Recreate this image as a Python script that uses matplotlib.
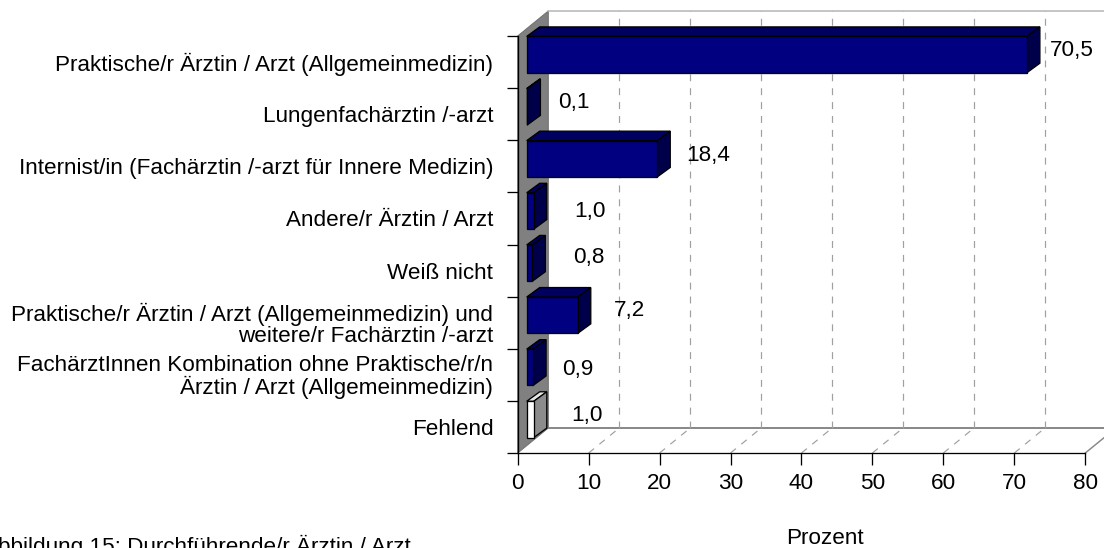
import matplotlib
matplotlib.use('Agg')
import matplotlib.pyplot as plt
from matplotlib.patches import Polygon
import numpy as np

# ---------------- data ----------------
categories = [
    'Praktische/r Ärztin / Arzt (Allgemeinmedizin)',
    'Lungenfachärztin /-arzt',
    'Internist/in (Fachärztin /-arzt für Innere Medizin)',
    'Andere/r Ärztin / Arzt',
    'Weiß nicht',
    'Praktische/r Ärztin / Arzt (Allgemeinmedizin) und\nweitere/r Fachärztin /-arzt',
    'FachärztInnen Kombination ohne Praktische/r/n\nÄrztin / Arzt (Allgemeinmedizin)',
    'Fehlend',
]
values = [70.5, 0.1, 18.4, 1.0, 0.8, 7.2, 0.9, 1.0]
is_missing = [False, False, False, False, False, False, False, True]
x_ticks = [0, 10, 20, 30, 40, 50, 60, 70, 80]
x_label = 'Prozent'
caption = 'Abbildung 15: Durchführende/r Ärztin / Arzt'

# ---------------- layout / style ----------------
W, H, DPI = 1104, 548, 100
plt.rcParams['font.family'] = ['Liberation Sans', 'DejaVu Sans']
plt.rcParams['lines.scale_dashes'] = False
FS = 16.2
PX = 72.0 / DPI  # points per pixel

fig = plt.figure(figsize=(W / DPI, H / DPI), dpi=DPI)
fig.patch.set_facecolor('white')

ax_l, ax_r, ax_t, ax_b = 517.7, 1085.3, 36.0, 453.0
ax = fig.add_axes([ax_l / W, 1 - ax_b / H, (ax_r - ax_l) / W, (ax_b - ax_t) / H])
n = len(categories)
xmax = x_ticks[-1]
ax.set_xlim(0, xmax)
ax.set_ylim(n - 0.5, -0.5)
ax.patch.set_visible(False)

sx = (ax_r - ax_l) / xmax   # px per x unit
sy = (ax_b - ax_t) / n      # px per category


def d(px, py):
    return px / sx, py / sy


wall_dx, wall_dy = d(30.6, -25.0)
bf_dx, bf_dy = d(9.0, -7.5)
bb_dx, bb_dy = d(22.0, -17.0)
half_h = 36.3 / 2 / sy

wall_gray = '#808080'
grid_gray = '#a0a0a0'
navy_front, navy_top, navy_side = '#000080', '#00005e', '#00004a'
miss_front, miss_top, miss_side = '#ffffff', '#e6e6e6', '#8c8c8c'

y_top_edge = -0.5
y_floor = n - 0.5

# left wall
ax.add_patch(Polygon([(0, y_top_edge), (wall_dx, y_top_edge + wall_dy),
                      (wall_dx, y_floor + wall_dy), (0, y_floor)],
                     closed=True, fc=wall_gray, ec='#707070', lw=1 * PX,
                     clip_on=False, zorder=0.5))
# floor
ax.add_patch(Polygon([(0, y_floor), (xmax, y_floor), (xmax + wall_dx, y_floor + wall_dy),
                      (wall_dx, y_floor + wall_dy)],
                     closed=True, fc='white', ec='none', clip_on=False, zorder=0.4))
ax.plot([wall_dx, xmax + wall_dx * 2], [y_floor + wall_dy] * 2, color='#8a8a8a',
        lw=2 * PX, clip_on=False, zorder=0.6, solid_capstyle='butt')
ax.plot([xmax, xmax + wall_dx], [y_floor, y_floor + wall_dy], color='#8a8a8a',
        lw=1.5 * PX, clip_on=False, zorder=0.6)
# back wall top edge
ax.plot([wall_dx, xmax + wall_dx * 2], [y_top_edge + wall_dy] * 2, color='#b4b4b4',
        lw=1.5 * PX, clip_on=False, zorder=0.6)

# gridlines on back wall and floor
for k in x_ticks[1:-1]:
    ax.plot([k + wall_dx] * 2, [y_floor + wall_dy, y_top_edge + wall_dy], color=grid_gray,
            lw=1.2 * PX, ls=(0, (5, 5)), clip_on=False, zorder=0.7)
    ax.plot([k, k + wall_dx], [y_floor, y_floor + wall_dy], color=grid_gray,
            lw=1.2 * PX, ls=(0, (5, 5)), clip_on=False, zorder=0.7)

# bars
ddx, ddy = bb_dx - bf_dx, bb_dy - bf_dy
for i, (v, miss) in enumerate(zip(values, is_missing)):
    fc, tc, sc = (miss_front, miss_top, miss_side) if miss else (navy_front, navy_top, navy_side)
    x0, x1 = bf_dx, bf_dx + v
    yt, yb = i + bf_dy - half_h, i + bf_dy + half_h
    top = [(x0, yt), (x1, yt), (x1 + ddx, yt + ddy), (x0 + ddx, yt + ddy)]
    side = [(x1, yt), (x1 + ddx, yt + ddy), (x1 + ddx, yb + ddy), (x1, yb)]
    front = [(x0, yt), (x1, yt), (x1, yb), (x0, yb)]
    for poly, c in ((top, tc), (side, sc), (front, fc)):
        ax.add_patch(Polygon(poly, closed=True, fc=c, ec='black', lw=1.3 * PX,
                             joinstyle='miter', clip_on=False, zorder=3))

# value labels
label_gap_px, label_dy_px = 17.0, -11.3
label_nudge_px = [(-7, 0.2), (0.6, 0.1), (-0.6, 0), (10, 3.9), (11, -1.3), (6, -0.4), (-1.4, 5.5), (7, -0.6)]
for i, v in enumerate(values):
    nx, ny = label_nudge_px[i]
    ax.text(v + bb_dx + (label_gap_px + nx) / sx, i + (label_dy_px + ny) / sy,
            f'{v:.1f}'.replace('.', ','), ha='left', va='center', fontsize=FS,
            color='black', clip_on=False, zorder=4)

# axes, ticks
for s in ('top', 'right'):
    ax.spines[s].set_visible(False)
for s in ('left', 'bottom'):
    ax.spines[s].set_color('black')
    ax.spines[s].set_linewidth(1.3 * PX)
    ax.spines[s].set_zorder(2.5)

ax.set_yticks(np.arange(n + 1) - 0.5)
ax.set_yticklabels([''] * (n + 1))
ax.set_yticks(np.arange(n), minor=True)
ax.set_yticklabels(categories, minor=True, fontsize=FS)
ax.tick_params(axis='y', which='major', length=11 * PX, width=1.3 * PX, color='black', direction='out')
ax.tick_params(axis='y', which='minor', length=0, pad=24.4 * PX)
for lbl in ax.get_yticklabels(minor=True):
    lbl.set_linespacing(1.0)

ax.set_xticks(x_ticks)
ax.set_xticklabels([str(t) for t in x_ticks], fontsize=FS)
ax.tick_params(axis='x', which='major', length=12 * PX, width=1.3 * PX, color='black',
               direction='out', pad=5.5)

ax.text((825 - ax_l) / (ax_r - ax_l), (ax_b - 543.5) / (ax_b - ax_t), x_label,
        transform=ax.transAxes, ha='center', va='baseline', fontsize=FS)

fig.text(-17 / W, 1 - 553 / H, caption, ha='left', va='baseline', fontsize=FS)

fig.savefig('out.png', dpi=DPI, facecolor='white')
